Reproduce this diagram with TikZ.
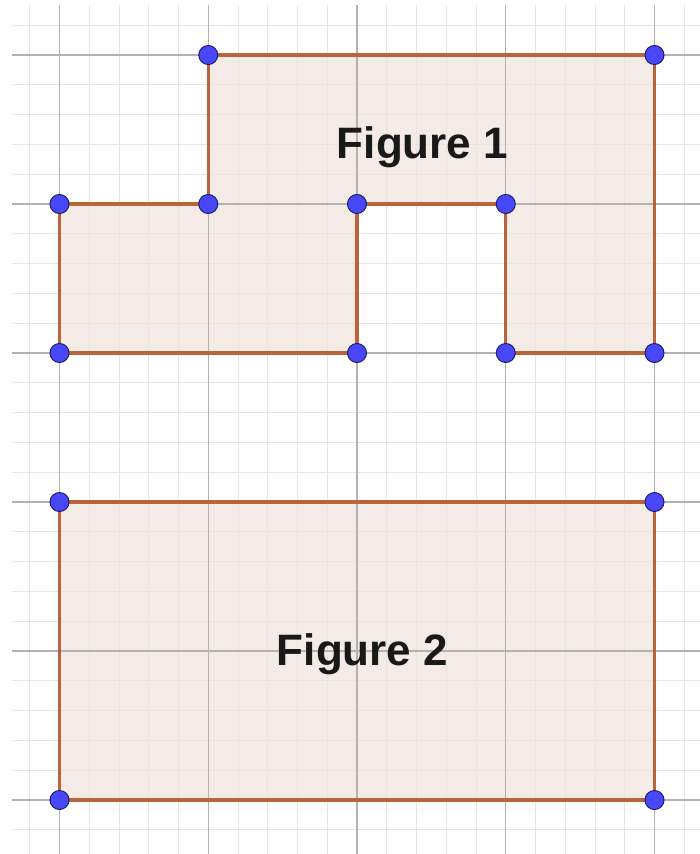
\documentclass[tikz,border=0pt]{standalone}
\usepackage{fontspec}
\setmainfont{Liberation Sans}
\begin{document}
\begin{tikzpicture}[x=1pt,y=-1pt,
  minorline/.style={draw=black!10,line width=0.9pt},
  majorline/.style={draw=black!30,line width=1.1pt},
  shapefill/.style={fill=shadefill},
  edge/.style={draw=edgecol,line width=3.2pt,line join=miter},
  pt/.style={circle,fill=ptblue,draw=ptedge,line width=1pt,minimum size=19pt,inner sep=0pt},
  lbl/.style={font=\bfseries\fontsize{44}{44}\selectfont,text=black!90,anchor=base,inner sep=0pt}]
\definecolor{shadefill}{RGB}{244,234,230}
\definecolor{edgecol}{RGB}{185,100,58}
\definecolor{ptblue}{RGB}{72,72,250}
\definecolor{ptedge}{RGB}{30,30,110}
\useasboundingbox (0,0) rectangle (700,854);
\fill[white] (0,0) rectangle (700,854);
% corner coordinates
\coordinate (A) at (208.25,55);
\coordinate (B) at (654.5,55);
\coordinate (C) at (654.5,353);
\coordinate (D) at (505.75,353);
\coordinate (E) at (505.75,204);
\coordinate (F) at (357,204);
\coordinate (G) at (357,353);
\coordinate (H) at (59.5,353);
\coordinate (I) at (59.5,204);
\coordinate (J) at (208.25,204);
\coordinate (P) at (59.5,502);
\coordinate (Q) at (654.5,502);
\coordinate (R) at (654.5,800);
\coordinate (S) at (59.5,800);
% fills
\path[shapefill] (A) -- (B) -- (C) -- (D) -- (E) -- (F) -- (G) -- (H) -- (I) -- (J) -- cycle;
\path[shapefill] (P) -- (Q) -- (R) -- (S) -- cycle;
% grid
\begin{scope}
\clip (12,5) rectangle (700,854);
\foreach \i in {-2,...,22} {
  \draw[minorline] ({59.5+\i*29.75},0) -- ({59.5+\i*29.75},854);
}
\foreach \j in {-2,...,28} {
  \draw[minorline] (0,{55+\j*29.8}) -- (700,{55+\j*29.8});
}
\foreach \i in {0,...,4} {
  \draw[majorline] ({59.5+\i*148.75},0) -- ({59.5+\i*148.75},854);
}
\foreach \j in {0,...,5} {
  \draw[majorline] (0,{55+\j*149}) -- (700,{55+\j*149});
}
\end{scope}
% edges
\draw[edge] (A) -- (B) -- (C) -- (D) -- (E) -- (F) -- (G) -- (H) -- (I) -- (J) -- cycle;
\draw[edge] (P) -- (Q) -- (R) -- (S) -- cycle;
% points
\foreach \n in {A,B,C,D,E,F,G,H,I,J,P,Q,R,S} {
  \node[pt] (pt\n) at (\n) {};
}
% labels
\node[lbl] (t1) at (422.5,158) {Figure 1};
\node[lbl] (t2) at (362.5,665) {Figure 2};
\end{tikzpicture}
\end{document}
